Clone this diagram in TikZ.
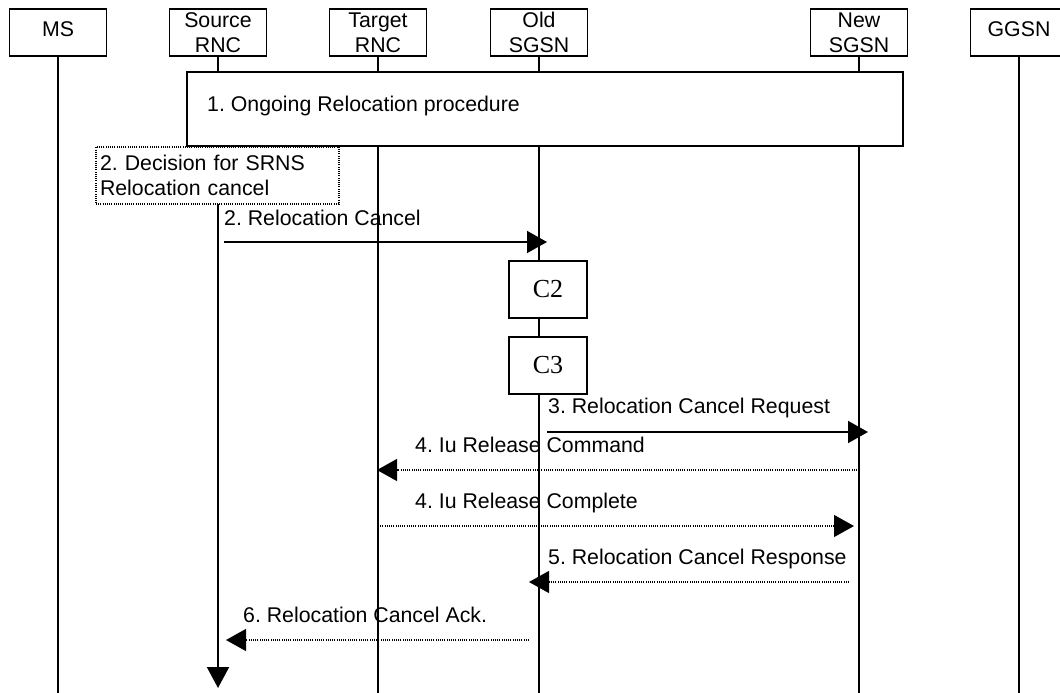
\documentclass[tikz,border=0pt]{standalone}
\usepackage{fontspec}
\setmainfont{Liberation Sans}
\newfontfamily\serifC{Liberation Serif}
\usetikzlibrary{arrows.meta}
\frenchspacing

\begin{document}
\begin{tikzpicture}[x=1pt, y=-1pt,
    every node/.style={font=\fontsize{21.3}{25}\selectfont},
    entity/.style={draw, line width=1.8pt, fill=white, minimum width=97pt, minimum height=47pt, inner sep=0pt, align=center},
    life/.style={line width=2pt},
    phase/.style={draw, line width=1.8pt, fill=white, inner sep=0pt},
    action/.style={draw, line width=1.8pt, fill=white, minimum width=78pt, minimum height=57pt, font=\fontsize{26}{30}\selectfont\serifC},
    decision/.style={draw, dash pattern=on 1pt off 1.2pt, line width=1.2pt, fill=white, minimum height=57pt, text width=235pt, inner xsep=4pt, inner ysep=0pt, align=left},
    msgtext/.style={anchor=base west, inner sep=0pt},
    sig/.style={line width=1.6pt, -{Triangle[length=20pt, width=22pt]}},
    ack/.style={sig, line width=1.2pt, dash pattern=on 1pt off 1.2pt}]
  \useasboundingbox (0,0) rectangle (1060,693);
  \clip (0,0) rectangle (1060,693);
  \coordinate (bot) at (0,693);
  \node[entity, text depth=6pt] (ms) at (58,32.5) {MS};
  \node[entity] (src) at (218,32.5) {Source\\RNC};
  \node[entity] (tgt) at (378,32.5) {Target\\RNC};
  \node[entity] (old) at (539,32.5) {Old\\SGSN};
  \node[entity] (new) at (859,32.5) {New\\SGSN};
  \node[entity, text depth=6pt] (ggsn) at (1019,32.5) {GGSN};
  \draw[life] (ms.south) -- (ms |- bot);
  \draw[life] (tgt.south) -- (tgt |- bot);
  \draw[life] (old.south) -- (old |- bot);
  \draw[life] (new.south) -- (new |- bot);
  \draw[life] (ggsn.south) -- (ggsn |- bot);
  \coordinate (srcend) at (218,688);
  \draw[life, -{Triangle[length=21pt, width=22pt]}] (src.south) -- (srcend);
  \node[phase, minimum width=716pt, minimum height=74pt] (ongoing) at (545,109) {};
  \node[msgtext] (t1) at (207,111) {1. Ongoing Relocation procedure};
  \node[decision] (dec) at (217.5,175.5) {2. Decision for SRNS\\Relocation cancel};
  \node[action] (c2) at (548,289.5) {C2};
  \node[action] (c3) at (548,365.5) {C3};
  \coordinate (m2a) at (224,242);
  \coordinate (m2b) at (547,242);
  \coordinate (m3a) at (547,432);
  \coordinate (m3b) at (868,432);
  \coordinate (m4a) at (857,470);
  \coordinate (m4b) at (377,470);
  \coordinate (m4c) at (378,526);
  \coordinate (m4d) at (854,526);
  \coordinate (m5a) at (849,582);
  \coordinate (m5b) at (529,582);
  \coordinate (m6a) at (529,640);
  \coordinate (m6b) at (226,640);
  \draw[sig] (m2a) -- (m2b);
  \draw[sig] (m3a) -- (m3b);
  \draw[ack] (m4a) -- (m4b);
  \draw[ack] (m4c) -- (m4d);
  \draw[ack] (m5a) -- (m5b);
  \draw[ack] (m6a) -- (m6b);
  \node[msgtext] (t2) at (224,225) {2. Relocation Cancel};
  \node[msgtext] (t3) at (548,413) {3. Relocation Cancel Request};
  \node[msgtext] (t4a) at (415,452) {4. Iu Release Command};
  \node[msgtext] (t4b) at (415,508) {4. Iu Release Complete};
  \node[msgtext] (t5) at (548,564) {5. Relocation Cancel Response};
  \node[msgtext] (t6) at (243,622) {6. Relocation Cancel Ack.};
\end{tikzpicture}
\end{document}
